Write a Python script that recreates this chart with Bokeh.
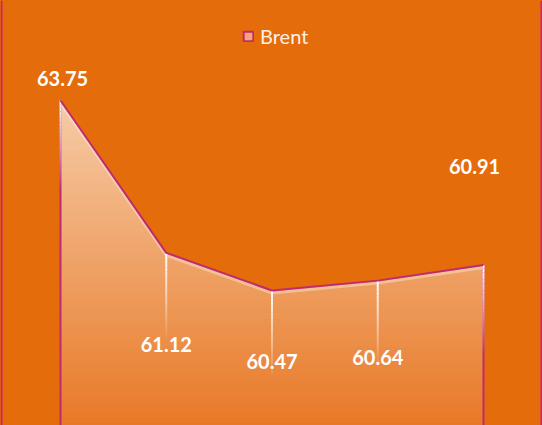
import numpy as np
from bokeh.plotting import figure
from bokeh.models import Range1d, Legend, LegendItem, ColumnDataSource, Span
from bokeh.embed import file_html
from bokeh.resources import INLINE
from bokeh.core.properties import value

# ---- data ----
categories = ["P1", "P2", "P3", "P4", "P5"]
brent = [63.75, 61.12, 60.47, 60.64, 60.91]
labels = ["63.75", "61.12", "60.47", "60.64", "60.91"]

# ---- styles / label placement (screen px) ----
label_dx = [2, 0, 0, 0, -9]
label_dy = [-22, 92, 71, 77, -98]
BG = "#E46C0A"
LINE = "#C02A70"
TOP_C = np.array([246, 203, 166])
BOT_C = np.array([232, 120, 38])
FONT = "Lato"

W, H = 542, 425
idx = list(range(len(categories)))
step_px = 105.75
first_px = 60.0
x0 = -first_px / step_px
x1 = (len(categories) - 1) + (W - (first_px + step_px * (len(categories) - 1))) / step_px
ylo, yhi = 58.139, 65.476
upp = (yhi - ylo) / H  # data units per pixel

p = figure(width=W, height=H, x_range=Range1d(x0, x1), y_range=Range1d(ylo, yhi),
           output_backend="svg", toolbar_location=None, min_border=0,
           background_fill_color=BG, border_fill_color=BG, outline_line_color=None)
p.axis.visible = False
p.grid.visible = False

# gradient area: nested vareas from the top colour down
xs = np.linspace(idx[0], idx[-1], 1201)
curve = np.interp(xs, idx, brent)
ytop = max(brent)
N = 70
edges = np.linspace(ylo - 1, ytop, N + 1)
for k in range(N, 0, -1):
    e = edges[k]
    f = (e - ylo) / (ytop - ylo)
    f = min(max(f, 0), 1)
    c = BOT_C + (TOP_C - BOT_C) * f
    col = "#%02x%02x%02x" % tuple(int(round(v)) for v in c)
    p.varea(x=xs, y1=ylo - 1, y2=np.minimum(curve, e), fill_color=col, fill_alpha=1)

# soft highlight under the top line
p.line(idx, [v - 2.5 * upp for v in brent], line_color="white", line_alpha=0.35, line_width=3)

# edges of the area
p.segment(x0=[idx[0], idx[-1]], y0=[brent[0], brent[-1]], x1=[idx[0], idx[-1]], y1=[ylo - 1, ylo - 1],
          line_color=LINE, line_width=2)

# white fading drop lines
fade_px = 88
nseg = 24
sx0, sy0, sx1, sy1, sa = [], [], [], [], []
for i, v in zip(idx, brent):
    for s in range(nseg):
        a = 1 - s / nseg
        sx0.append(i); sx1.append(i)
        sy0.append(v - s * fade_px / nseg * upp)
        sy1.append(v - (s + 1) * fade_px / nseg * upp)
        sa.append(a)
p.segment(x0=sx0, y0=sy0, x1=sx1, y1=sy1, line_color="white", line_alpha=sa, line_width=2)

# main line
line_r = p.line(idx, brent, line_color=LINE, line_width=2)

# data labels
src = ColumnDataSource(dict(x=idx, y=brent, t=labels, dx=label_dx, dy=label_dy))
p.text(x="x", y="y", text="t", x_offset="dx", y_offset="dy", source=src,
       text_color="white", text_font=value(FONT), text_font_style="bold",
       text_font_size="20px", text_align="center", text_baseline="middle")

# legend (dummy quad for the swatch)
dummy = p.quad(left=[np.nan], right=[np.nan], top=[np.nan], bottom=[np.nan],
               fill_color="#F0A878", line_color=LINE, line_width=2)
legend = Legend(items=[LegendItem(label="Brent", renderers=[dummy])],
                location=(242, H - 48), orientation="horizontal",
                glyph_width=12, glyph_height=12, label_standoff=6,
                padding=0, margin=0, spacing=0,
                label_text_font=FONT, label_text_font_size="20px",
                label_text_color="#FFF1E6",
                background_fill_alpha=0, border_line_alpha=0)
p.add_layout(legend, "center")

# left/right chart border
p.add_layout(Span(location=1, dimension="height", location_units="screen", line_color="#D0206E", line_width=2))
p.add_layout(Span(location=W - 1, dimension="height", location_units="screen", line_color="#D0206E", line_width=2))

html = file_html(p, INLINE)
html = html.replace("<head>", "<head><style>html,body{margin:0;padding:0;overflow:hidden;background:%s}</style>" % BG, 1)
open("out.html", "w").write(html)
